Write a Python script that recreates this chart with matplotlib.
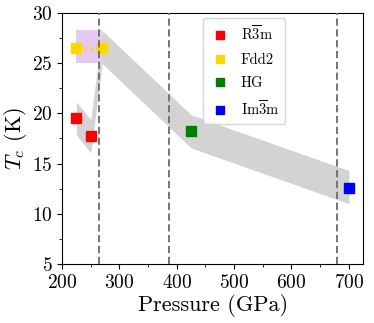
import matplotlib
matplotlib.use("Agg")
import matplotlib.pyplot as plt
from matplotlib.ticker import MultipleLocator
from matplotlib.patches import Rectangle

plt.rcParams['font.family'] = 'serif'
plt.rcParams['font.serif'] = ['cmr10', 'DejaVu Serif']
plt.rcParams['mathtext.fontset'] = 'cm'
plt.rcParams['axes.formatter.use_mathtext'] = True
plt.rcParams['axes.unicode_minus'] = False

# data
r3m_p = [225, 250]
r3m_tc = [19.5, 17.7]
fdd2_p = [225, 270]
fdd2_tc = [26.5, 26.5]
hg_p = [425]
hg_tc = [18.2]
im3m_p = [700]
im3m_tc = [12.6]

band_p = [225, 250, 270, 425, 700]
band_tc = [19.5, 17.7, 26.6, 18.2, 12.65]
band_hw = 1.65

box_p = (225, 270)
box_tc = (25.0, 28.3)

transitions = [265, 386, 680]

fig = plt.figure(figsize=(3.74, 3.23), dpi=100)
ax = fig.add_axes([0.166, 0.183, 0.805, 0.777])

ax.fill_between(band_p, [t - band_hw for t in band_tc], [t + band_hw for t in band_tc],
                color='lightgray', lw=0, zorder=1)
ax.add_patch(Rectangle((box_p[0], box_tc[0]), box_p[1] - box_p[0], box_tc[1] - box_tc[0],
                       color='#e6c9ef', lw=0, zorder=2))
for p in transitions:
    ax.axvline(p, color='#6a6a6a', ls='--', lw=1.3, dashes=(4, 2), zorder=6)

ax.plot(fdd2_p, fdd2_tc, ls=':', color='gold', lw=2, zorder=4)
ax.plot(r3m_p, r3m_tc, 's', color='red', ms=7, ls='none', label=r'R$\overline{3}$m', zorder=5)
ax.plot(fdd2_p, fdd2_tc, 's', color='gold', ms=7, ls='none', label='Fdd2', zorder=5)
ax.plot(hg_p, hg_tc, 's', color='green', ms=7, ls='none', label='HG', zorder=5)
ax.plot(im3m_p, im3m_tc, 's', color='blue', ms=7, ls='none', label=r'Im$\overline{3}$m', zorder=5)

ax.set_xlim(200, 725)
ax.set_ylim(5, 30)
ax.xaxis.set_major_locator(MultipleLocator(100))
ax.xaxis.set_minor_locator(MultipleLocator(50))
ax.yaxis.set_major_locator(MultipleLocator(5))
ax.yaxis.set_minor_locator(MultipleLocator(2.5))
ax.tick_params(labelsize=14)
ax.set_xlabel('Pressure (GPa)', fontsize=16, labelpad=2)
ax.set_ylabel(r'$T_c$ (K)', fontsize=16, labelpad=2)

leg = ax.legend(loc='upper left', bbox_to_anchor=(0.468, 0.978), borderaxespad=0,
                fontsize=10.5, handletextpad=0.7, handlelength=1.5, labelspacing=0.65,
                markerscale=0.9)
leg.set_zorder(7)

fig.savefig('out.png', dpi=100)
